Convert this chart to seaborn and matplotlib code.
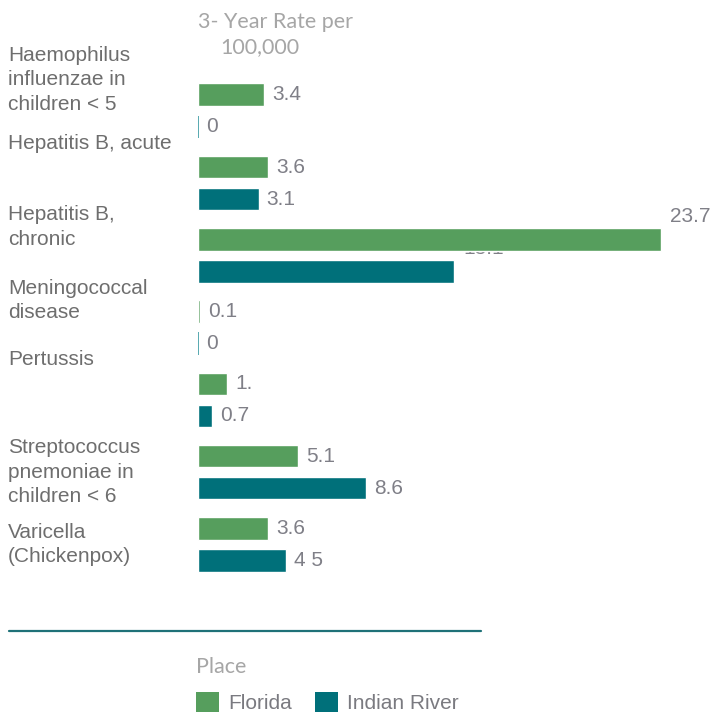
import numpy as np
import pandas as pd
import seaborn as sns
import matplotlib.pyplot as plt
import matplotlib.transforms as mtrans
from matplotlib.lines import Line2D
from matplotlib.patches import Patch

# ---- data ----
categories = [
    "Haemophilus\ninfluenzae in\nchildren < 5",
    "Hepatitis B, acute",
    "Hepatitis B,\nchronic",
    "Meningococcal\ndisease",
    "Pertussis",
    "Streptococcus\npnemoniae in\nchildren < 6",
    "Varicella\n(Chickenpox)",
]
places = ["Florida", "Indian River"]
florida = [3.4, 3.6, 23.7, 0.1, 1.5, 5.1, 3.6]
indian_river = [0.0, 3.1, 13.1, 0.0, 0.7, 8.6, 4.5]
florida_labels = ["3.4", "3.6", "23.7", "0.1", "1.", "5.1", "3.6"]
indian_river_labels = ["0", "3.1", "13.1", "0", "0.7", "8.6", "4 5"]
title_lines = ["3- Year Rate per", "100,000"]

# ---- style ----
colors = {"Florida": "#569E5D", "Indian River": "#00707A"}
zero_colors = {"Florida": "#7fbf86", "Indian River": "#4aa3aa"}
label_offsets_px = [-31, -39.5, -28, -27, -40, 0, 0]

df = pd.DataFrame({
    "Disease": categories * 2,
    "Place": [places[0]] * len(categories) + [places[1]] * len(categories),
    "Rate": florida + indian_river,
})

sns.set_theme(style="white")
plt.rcParams["font.family"] = ["Liberation Sans", "DejaVu Sans"]

W, H = 718, 719
fig = plt.figure(figsize=(W / 100, H / 100), dpi=100)
unit_px = 72.27
top_px = 110.8 - unit_px / 2
bot_px = 544.4 + unit_px / 2
left_px = 198
xmax = 25
px_per_x = 19.55
ax = fig.add_axes([left_px / W, 1 - bot_px / H, xmax * px_per_x / W, (bot_px - top_px) / H])

sns.barplot(data=df, y="Disease", x="Rate", hue="Place", hue_order=places,
            palette=colors, orient="h", width=0.887, gap=0.296,
            order=categories, ax=ax, legend=False, saturation=1)

ax.set_xlim(0, xmax)
ax.set_ylim(len(categories) - 0.5, -0.5)
ax.set_xticks([])
ax.set_yticks([])
ax.set_xlabel("")
ax.set_ylabel("")
sns.despine(ax=ax, left=True, bottom=True)

val_color = "#7f7f87"
label_sets = [florida_labels, indian_river_labels]
chronic_idx = 2
for place, cont, labs in zip(places, ax.containers, label_sets):
    for p in cont.patches:
        p.set_zorder(1)
        if p.get_width() == 0:
            p.set_edgecolor(zero_colors[place])
            p.set_linewidth(1.3)
    anns = ax.bar_label(cont, labels=labs, padding=5.8, fontsize=15,
                        color=val_color)
    for i, a in enumerate(anns):
        a.set_verticalalignment("center")
        if i == chronic_idx:
            a.xyann = (6.5, 16.5)
            a.set_zorder(0.5)
            a.set_clip_on(False)

# category labels
lab_color = "#6e6e6e"
lab_tr = mtrans.blended_transform_factory(fig.transFigure, ax.transData)
for i, (cat, off) in enumerate(zip(categories, label_offsets_px)):
    ax.text(8 / W, i + off / unit_px, cat, transform=lab_tr,
            ha="left", va="center", fontsize=15, color=lab_color,
            linespacing=1.38)

# title
light = dict(family=["Lato", "DejaVu Sans"], fontweight="normal", color="#a6a6a6", fontsize=15.5)
fig.text(198 / W, 1 - 22 / H, title_lines[0], va="center", ha="left", **light)
fig.text(220 / W, 1 - 47 / H, title_lines[1], va="center", ha="left", **light)

# divider line
fig.add_artist(Line2D([9 / W, 481 / W], [1 - 631 / H] * 2, color="#1f7178", lw=1.6))

# legend
handles = [Patch(facecolor=colors[p], edgecolor="none") for p in places]
leg = fig.legend(handles=handles, labels=places, title="Place", loc="upper left",
                 bbox_to_anchor=(196 / W, 1 - 657 / H), ncol=2, frameon=False,
                 handlelength=1.1, handleheight=1.1, handletextpad=0.45,
                 columnspacing=1.1, borderpad=0, borderaxespad=0,
                 fontsize=15, title_fontsize=15.5, alignment="left", labelspacing=0.7)
leg.get_title().set_color("#a6a6a6")
leg.get_title().set_family(["Lato", "DejaVu Sans"])
for t in leg.get_texts():
    t.set_color("#7a7a80")

fig.savefig("out.png", dpi=100)
